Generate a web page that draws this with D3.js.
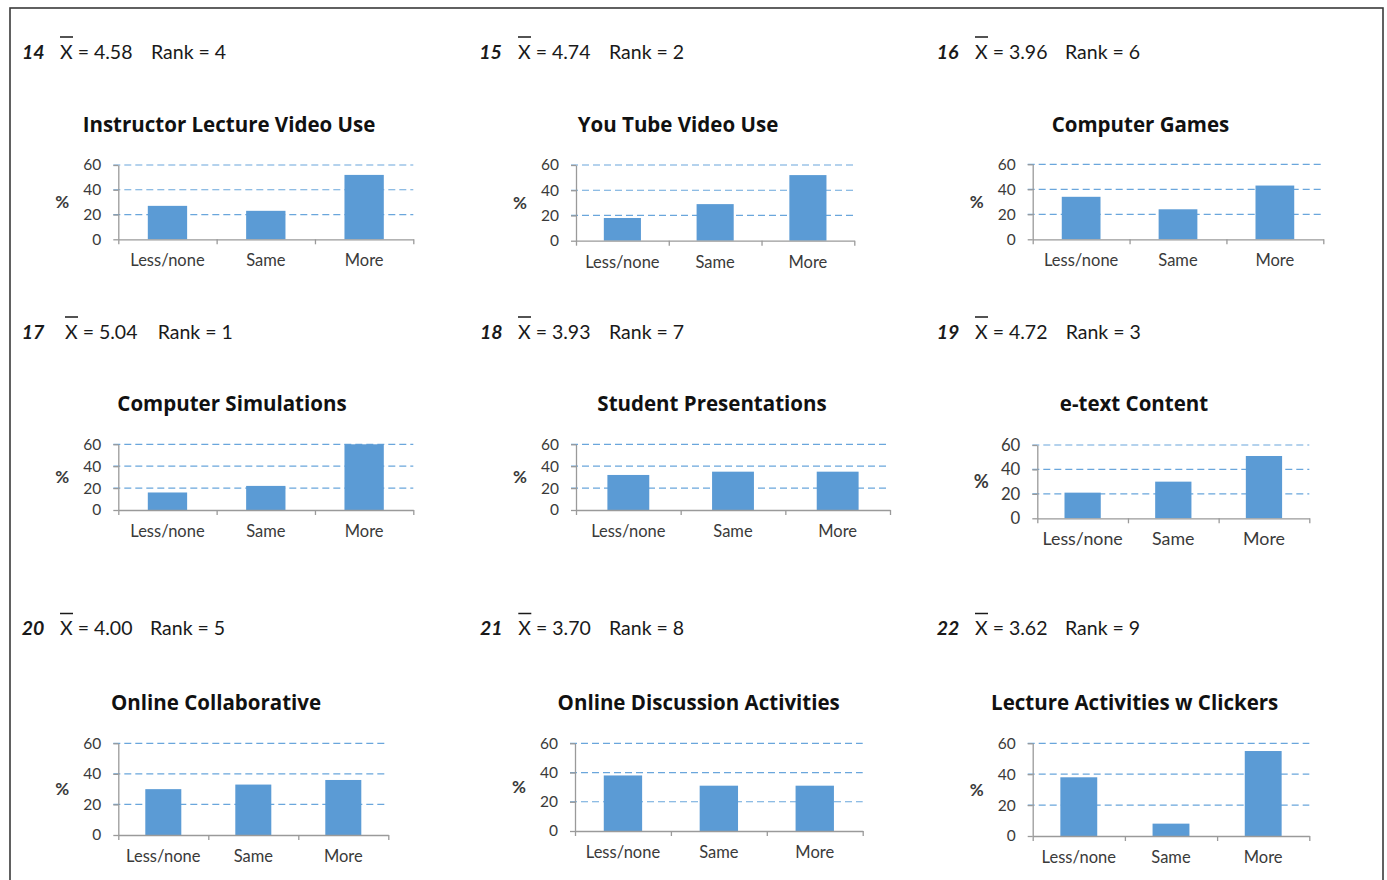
<!DOCTYPE html>
<html>
<head>
<meta charset="utf-8">
<script src="https://cdn.jsdelivr.net/npm/d3@7"></script>
<style>
  html, body { margin: 0; padding: 0; background: #fff; }
  svg { display: block; }
  text { font-family: Lato, "Open Sans", sans-serif; }
  text.chart-title { font-family: "Open Sans", Lato, sans-serif; }
</style>
</head>
<body>
<svg id="chart" width="1387" height="880"></svg>
<script>
// Survey items: preference for each teaching method (percent of students)
const categories = ["Less/none", "Same", "More"];
const yTicks = [0, 20, 40, 60];
const itemNumbers = [14, 15, 16, 17, 18, 19, 20, 21, 22];
const titles = [
  "Instructor Lecture Video Use", "You Tube Video Use", "Computer Games",
  "Computer Simulations", "Student Presentations", "e-text Content",
  "Online Collaborative", "Online Discussion Activities", "Lecture Activities w Clickers"
];
const means = ["4.58", "4.74", "3.96", "5.04", "3.93", "4.72", "4.00", "3.70", "3.62"];
const ranks = [4, 2, 6, 1, 7, 3, 5, 8, 9];
const pctLessNone = [27, 18, 34, 16, 32, 21, 30, 38, 38];
const pctSame     = [23, 29, 24, 22, 35, 30, 33, 31, 8];
const pctMore     = [52, 52, 43, 60, 35, 51, 36, 31, 55];

// Panel frames on the page
const layout = [
  {hx: 22,    hy: 58.5, xOff: 38, rOff: 129, ax: 118.3,  ex: 413.3,  top: 165,   bot: 239.3, tx: 229,    ty: 131.5, fs: 1},
  {hx: 479.3, hy: 58.5, xOff: 38.7, rOff: 129.7, ax: 576, ex: 854.3,  top: 165,   bot: 240.7, tx: 678,    ty: 131.5, fs: 1},
  {hx: 936.7, hy: 58.5, xOff: 38.3, rOff: 128.3, ax: 1032.7, ex: 1323.3, top: 164.3, bot: 239.3, tx: 1140.5, ty: 131.5, fs: 1},
  {hx: 21.7,  hy: 338.5, xOff: 43.3, rOff: 136, ax: 118.3,  ex: 413.3,  top: 444.3, bot: 510,   tx: 232,    ty: 411,   fs: 1},
  {hx: 480,   hy: 338.5, xOff: 38, rOff: 129, ax: 576,    ex: 890,    top: 444.3, bot: 510,   tx: 712,    ty: 411,   fs: 1},
  {hx: 936.7, hy: 338.5, xOff: 38.3, rOff: 129, ax: 1037.3, ex: 1309.3, top: 445,   bot: 518.3, tx: 1134,   ty: 411,   fs: 1.08},
  {hx: 21.7,  hy: 635,  xOff: 38.3, rOff: 128.3, ax: 118.3,  ex: 388.3,  top: 743.3, bot: 835,   tx: 216,    ty: 710,   fs: 1},
  {hx: 480,   hy: 635,  xOff: 38.3, rOff: 129, ax: 575,    ex: 862.7,  top: 743.3, bot: 831,   tx: 698.7,  ty: 710,   fs: 1},
  {hx: 936.7, hy: 635,  xOff: 38.3, rOff: 128.3, ax: 1032.7, ex: 1309.3, top: 743.3, bot: 836,   tx: 1134.7, ty: 710,   fs: 1}
];

const svg = d3.select("#chart");

// outer frame
svg.append("rect")
  .attr("x", 10).attr("y", 8)
  .attr("width", 1373).attr("height", 900)
  .attr("fill", "none").attr("stroke", "#3a3a3a").attr("stroke-width", 1.6);

const barColor = "#5B9BD5";
const gridColor = "#6aa6dc";
const axisColor = "#9a9a9a";
const labelColor = "#3a3a3a";

layout.forEach((L, i) => {
  const g = svg.append("g");
  const values = [pctLessNone[i], pctSame[i], pctMore[i]];

  // header: item number, mean with overbar, rank
  const head = g.append("text")
    .attr("y", L.hy)
    .attr("font-size", 19.5)
    .attr("fill", "#1a1a1a");
  head.append("tspan").attr("x", L.hx)
    .attr("font-weight", "bold").attr("font-style", "italic")
    .text(itemNumbers[i]);
  head.append("tspan").attr("x", L.hx + L.xOff).text("X");
  head.append("tspan").attr("dx", 5).text("= " + means[i]);
  head.append("tspan").attr("x", L.hx + L.rOff).text("Rank = " + ranks[i]);
  g.append("line")
    .attr("x1", L.hx + L.xOff).attr("x2", L.hx + L.xOff + 13)
    .attr("y1", L.hy - 21.5).attr("y2", L.hy - 21.5)
    .attr("stroke", "#1a1a1a").attr("stroke-width", 1.5);

  // chart title
  g.append("text")
    .attr("class", "chart-title")
    .attr("x", L.tx).attr("y", L.ty)
    .attr("text-anchor", "middle")
    .attr("font-size", 20.5).attr("font-weight", "bold")
    .attr("fill", "#111")
    .text(titles[i]);

  const x = d3.scaleBand().domain(categories).range([L.ax, L.ex])
    .paddingInner(0.6).paddingOuter(0.3);
  const xEdge = d3.scaleLinear().domain([0, categories.length]).range([L.ax, L.ex]);
  const y = d3.scaleLinear().domain([0, 60]).range([L.bot, L.top]);

  // dashed gridlines
  g.append("g").selectAll("line")
    .data(yTicks.filter(t => t > 0))
    .join("line")
    .attr("x1", L.ax - 5).attr("x2", L.ex)
    .attr("y1", d => y(d)).attr("y2", d => y(d))
    .attr("stroke", gridColor).attr("stroke-width", 1.2)
    .attr("stroke-dasharray", "7,4");

  // bars
  g.append("g").selectAll("rect")
    .data(values)
    .join("rect")
    .attr("x", (d, k) => x(categories[k]))
    .attr("width", x.bandwidth())
    .attr("y", d => y(d))
    .attr("height", d => y(0) - y(d))
    .attr("fill", barColor);

  // y axis
  const yAxis = g.append("g")
    .attr("transform", `translate(${L.ax},0)`)
    .call(d3.axisLeft(y).tickValues(yTicks).tickSize(5).tickSizeOuter(0).tickPadding(12));
  yAxis.select(".domain").attr("stroke", axisColor).attr("stroke-width", 1.3);
  yAxis.selectAll(".tick line").attr("stroke", axisColor).attr("stroke-width", 1.3);
  yAxis.selectAll(".tick text")
    .attr("font-size", 15.5 * L.fs).attr("fill", labelColor);

  // x axis with boundary ticks
  const xAxis = g.append("g")
    .attr("transform", `translate(0,${L.bot})`)
    .call(d3.axisBottom(xEdge).tickValues(d3.range(categories.length + 1))
      .tickSize(5).tickSizeOuter(0).tickFormat(""));
  xAxis.select(".domain").attr("stroke", axisColor).attr("stroke-width", 1.3);
  xAxis.selectAll(".tick line").attr("stroke", axisColor).attr("stroke-width", 1.3);

  // category labels
  g.append("g").selectAll("text")
    .data(categories)
    .join("text")
    .attr("x", d => x(d) + x.bandwidth() / 2)
    .attr("y", L.bot + 27)
    .attr("text-anchor", "middle")
    .attr("font-size", 16.5 * L.fs)
    .attr("fill", labelColor)
    .text(d => d);

  // unit label
  g.append("text")
    .attr("x", L.ax - 56).attr("y", (L.top + L.bot) / 2 + 6)
    .attr("text-anchor", "middle")
    .attr("font-size", 17 * L.fs).attr("font-weight", "bold")
    .attr("fill", labelColor)
    .text("%");
});
</script>
</body>
</html>
